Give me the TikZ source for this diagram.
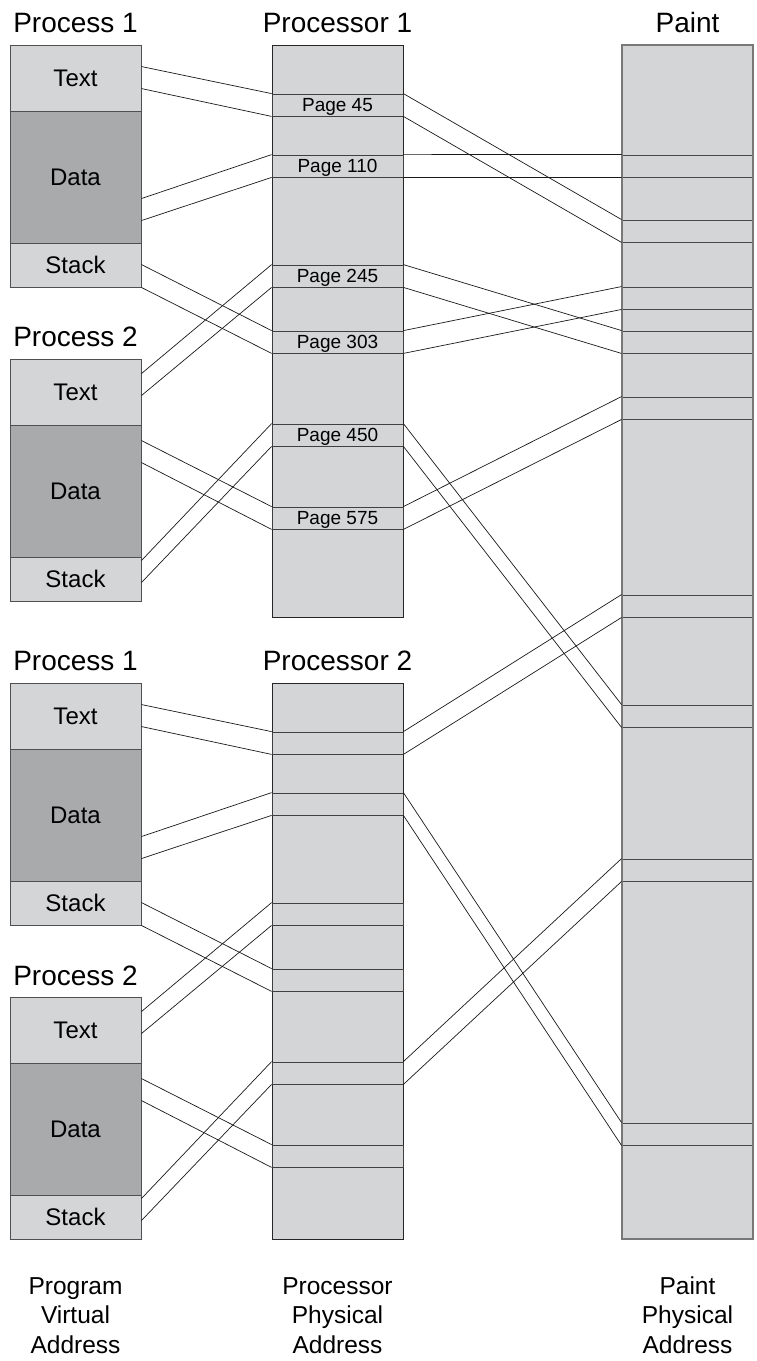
\documentclass[tikz,border=0pt]{standalone}
\usepackage{fontspec}
\setmainfont{Liberation Sans}
\definecolor{lightfill}{RGB}{212,213,215}
\definecolor{darkfill}{RGB}{169,170,172}
\definecolor{edgegray}{RGB}{80,80,80}
\definecolor{paintedge}{RGB}{120,120,120}
\begin{document}
\begin{tikzpicture}[x=1pt,y=-1pt,
  seg/.style={draw=edgegray, line width=0.9pt, fill=lightfill, minimum width=131pt, inner sep=0pt,
    font=\fontsize{24}{24}\selectfont, text height=17.2pt, text depth=0pt},
  dataseg/.style={seg, fill=darkfill},
  col/.style={draw=black!85, line width=0.9pt, fill=lightfill, minimum width=131pt, inner sep=0pt},
  pg/.style={draw=black!75, line width=0.8pt, fill=lightfill, minimum width=131pt, minimum height=22pt,
    inner sep=0pt, font=\fontsize{19}{19}\selectfont, text height=13.6pt, text depth=0pt},
  band/.style={draw=black!72, line width=0.9pt, fill=lightfill, minimum width=131pt, minimum height=22pt, inner sep=0pt},
  title/.style={font=\fontsize{28}{28}\selectfont, anchor=base, inner sep=0pt},
  foot/.style={font=\fontsize{24.5}{29.5}\selectfont, align=center, anchor=base, inner sep=0pt},
  link/.style={draw=black!90, line width=0.7pt}
]
\useasboundingbox (0,0) rectangle (756,1361);

% ---------- titles ----------
\node[title] (t1) at (75.5,32) {Process 1};
\node[title] (t2) at (337.5,32) {Processor 1};
\node[title] (t3) at (687.5,32) {Paint};
\node[title] (t4) at (75.5,346) {Process 2};
\node[title] (t5) at (75.5,670) {Process 1};
\node[title] (t6) at (337.5,670) {Processor 2};
\node[title] (t7) at (75.5,985) {Process 2};

% ---------- columns ----------
\node[col, minimum height=572pt] (cpu1) at (337.5,331) {};
\node[col, minimum height=556pt] (cpu2) at (337.5,961) {};
\node[fill=lightfill, minimum width=131pt, minimum height=1194pt, inner sep=0pt] (paint) at (687.5,642) {};

% ---------- pages of processor 1 ----------
\node[pg] (ua) at (337.5,105) {Page 45};
\node[pg] (ub) at (337.5,166) {Page 110};
\node[pg] (uc) at (337.5,276) {Page 245};
\node[pg] (ud) at (337.5,342) {Page 303};
\node[pg] (ue) at (337.5,435) {Page 450};
\node[pg] (uf) at (337.5,518) {Page 575};

% ---------- pages of processor 2 ----------
\node[pg] (la) at (337.5,743) {};
\node[pg] (lb) at (337.5,804) {};
\node[pg] (lc) at (337.5,914) {};
\node[pg] (ld) at (337.5,980) {};
\node[pg] (le) at (337.5,1073) {};
\node[pg] (lf) at (337.5,1156) {};

% ---------- paint bands ----------
\node[band] (b155) at (687.5,166) {};
\node[band] (b220) at (687.5,231) {};
\node[band] (b287) at (687.5,298) {};
\node[band] (b331) at (687.5,342) {};
\node[band] (b397) at (687.5,408) {};
\node[band] (b595) at (687.5,606) {};
\node[band] (b705) at (687.5,716) {};
\node[band] (b859) at (687.5,870) {};
\node[band] (b1123) at (687.5,1134) {};
\draw[paintedge, line width=1.6pt] (paint.north west) rectangle (paint.south east);

% ---------- process blocks, upper ----------
\node[seg, minimum height=66pt] (u1t) at (75.5,78) {Text};
\node[dataseg, minimum height=132pt] (u1d) at (75.5,177) {Data};
\node[seg, minimum height=44pt] (u1s) at (75.5,265) {Stack};
\node[seg, minimum height=66pt] (u2t) at (75.5,392) {Text};
\node[dataseg, minimum height=132pt] (u2d) at (75.5,491) {Data};
\node[seg, minimum height=44pt] (u2s) at (75.5,579) {Stack};

% ---------- process blocks, lower ----------
\node[seg, minimum height=66pt] (l1t) at (75.5,716) {Text};
\node[dataseg, minimum height=132pt] (l1d) at (75.5,815) {Data};
\node[seg, minimum height=44pt] (l1s) at (75.5,903) {Stack};
\node[seg, minimum height=66pt] (l2t) at (75.5,1030) {Text};
\node[dataseg, minimum height=132pt] (l2d) at (75.5,1129) {Data};
\node[seg, minimum height=44pt] (l2s) at (75.5,1217) {Stack};

% ---------- footers (base = last line) ----------
\node[foot] (f1) at (75.5,1353) {Program\\Virtual\\Address};
\node[foot] (f2) at (337.5,1353) {Processor\\Physical\\Address};
\node[foot] (f3) at (687.5,1353) {Paint\\Physical\\Address};

% ---------- connectors: processes -> processor 1 ----------
\draw[link] ([yshift=-22pt]u1t.north east) -- (ua.north west);
\draw[link] ([yshift=-44pt]u1t.north east) -- (ua.south west);
\draw[link] ([yshift=-88pt]u1d.north east) -- (ub.north west);
\draw[link] ([yshift=-110pt]u1d.north east) -- (ub.south west);
\draw[link] ([yshift=-22pt]u1s.north east) -- (ud.north west);
\draw[link] (u1s.south east) -- (ud.south west);
\draw[link] ([yshift=-15pt]u2t.north east) -- (uc.north west);
\draw[link] ([yshift=-37pt]u2t.north east) -- (uc.south west);
\draw[link] ([yshift=-16pt]u2d.north east) -- (uf.north west);
\draw[link] ([yshift=-38pt]u2d.north east) -- (uf.south west);
\draw[link] ([yshift=-4pt]u2s.north east) -- (ue.north west);
\draw[link] ([yshift=-26pt]u2s.north east) -- (ue.south west);

% ---------- connectors: processes -> processor 2 ----------
\draw[link] ([yshift=-22pt]l1t.north east) -- (la.north west);
\draw[link] ([yshift=-44pt]l1t.north east) -- (la.south west);
\draw[link] ([yshift=-88pt]l1d.north east) -- (lb.north west);
\draw[link] ([yshift=-110pt]l1d.north east) -- (lb.south west);
\draw[link] ([yshift=-22pt]l1s.north east) -- (ld.north west);
\draw[link] (l1s.south east) -- (ld.south west);
\draw[link] ([yshift=-15pt]l2t.north east) -- (lc.north west);
\draw[link] ([yshift=-37pt]l2t.north east) -- (lc.south west);
\draw[link] ([yshift=-16pt]l2d.north east) -- (lf.north west);
\draw[link] ([yshift=-38pt]l2d.north east) -- (lf.south west);
\draw[link] ([yshift=-4pt]l2s.north east) -- (le.north west);
\draw[link] ([yshift=-26pt]l2s.north east) -- (le.south west);

% ---------- connectors: processor 1 -> paint ----------
\draw[link] (ua.north east) -- (b220.north west);
\draw[link] (ua.south east) -- (b220.south west);
\draw[link] (ub.north east) -- (b155.north west);
\draw[link] (ub.south east) -- (b155.south west);
\draw[link] (uc.north east) -- (b331.north west);
\draw[link] (uc.south east) -- (b331.south west);
\draw[link] (ud.north east) -- (b287.north west);
\draw[link] (ud.south east) -- (b287.south west);
\draw[link] (ue.north east) -- (b705.north west);
\draw[link] (ue.south east) -- (b705.south west);
\draw[link] (uf.north east) -- (b397.north west);
\draw[link] (uf.south east) -- (b397.south west);

% ---------- connectors: processor 2 -> paint ----------
\draw[link] (la.north east) -- (b595.north west);
\draw[link] (la.south east) -- (b595.south west);
\draw[link] (lb.north east) -- (b1123.north west);
\draw[link] (lb.south east) -- (b1123.south west);
\draw[link] (le.north east) -- (b859.north west);
\draw[link] (le.south east) -- (b859.south west);
\end{tikzpicture}
\end{document}
